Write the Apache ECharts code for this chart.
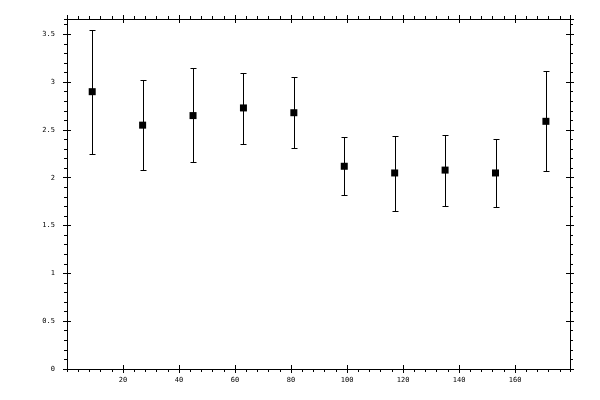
<!DOCTYPE html>
<html>
<head>
<meta charset="utf-8">
<script src="https://cdn.jsdelivr.net/npm/echarts@6/dist/echarts.min.js"></script>
<style>html,body{margin:0;padding:0;background:#fff;}#chart{width:600px;height:400px;}</style>
</head>
<body>
<div id="chart"></div>
<script>
// Data
const xValues = [9, 27, 45, 63, 81, 99, 117, 135, 153, 171];
const means   = [2.90, 2.55, 2.65, 2.73, 2.68, 2.12, 2.05, 2.08, 2.05, 2.59];
const lows    = [2.25, 2.08, 2.16, 2.35, 2.31, 1.82, 1.65, 1.70, 1.69, 2.07];
const highs   = [3.55, 3.02, 3.15, 3.10, 3.05, 2.43, 2.44, 2.45, 2.40, 3.12];

const xMin = 0, xMax = 179.6, xMajor = 20, xMinor = 4;
const yMin = 0, yMax = 3.66, yMajor = 0.5, yMinor = 0.1;

const chart = echarts.init(document.getElementById('chart'));
const rect = {left: 67, right: 30, top: 19, bottom: 31};
const black = '#000';
const labelFont = {fontFamily: 'DejaVu Sans Mono', fontSize: 7, color: black};

function xAx(grid, pos, interval, inside, len, labels) {
  return {
    type: 'value', gridIndex: grid, position: pos, min: xMin, max: xMax, interval: interval,
    axisLine: {show: grid === 0, onZero: false, lineStyle: {color: black, width: 1}},
    axisTick: {show: true, inside: inside, length: len, lineStyle: {color: black, width: 1}},
    axisLabel: labels ? Object.assign({show: true, margin: 8, showMinLabel: false, showMaxLabel: false}, labelFont) : {show: false},
    splitLine: {show: false}
  };
}
function yAx(grid, pos, interval, inside, len, labels) {
  return {
    type: 'value', gridIndex: grid, position: pos, min: yMin, max: yMax, interval: interval,
    axisLine: {show: grid === 0, onZero: false, lineStyle: {color: black, width: 1}},
    axisTick: {show: true, inside: inside, length: len, lineStyle: {color: black, width: 1}},
    axisLabel: labels ? Object.assign({show: true, margin: 12, showMinLabel: true, showMaxLabel: false,
      formatter: v => String(+v.toFixed(2))}, labelFont) : {show: false},
    splitLine: {show: false}
  };
}

const errData = xValues.map((x, i) => [x, lows[i], highs[i]]);
const ptData = xValues.map((x, i) => [x, means[i]]);

chart.setOption({
  animation: false,
  backgroundColor: '#fff',
  grid: [Object.assign({}, rect), Object.assign({}, rect), Object.assign({}, rect)],
  xAxis: [
    xAx(0, 'bottom', xMajor, false, 4, true),
    xAx(0, 'top', xMajor, false, 4, false),
    xAx(1, 'bottom', xMajor, true, 4, false),
    xAx(1, 'top', xMajor, true, 4, false),
    xAx(2, 'bottom', xMinor, false, 3, false),
    xAx(2, 'top', xMinor, false, 3, false)
  ],
  yAxis: [
    yAx(0, 'left', yMajor, false, 4, true),
    yAx(0, 'right', yMajor, false, 4, false),
    yAx(1, 'left', yMajor, true, 4, false),
    yAx(1, 'right', yMajor, true, 4, false),
    yAx(2, 'left', yMinor, false, 3, false),
    yAx(2, 'right', yMinor, false, 3, false)
  ],
  series: [
    {
      type: 'custom', xAxisIndex: 0, yAxisIndex: 0, z: 2,
      data: errData,
      renderItem: function (params, api) {
        const x = api.value(0);
        const lo = api.coord([x, api.value(1)]);
        const hi = api.coord([x, api.value(2)]);
        const cx = Math.round(lo[0]) + 0.5;
        const yHi = Math.round(hi[1]) + 0.5;
        const yLo = Math.round(lo[1]) + 0.5;
        const hw = 3;
        const style = {stroke: black, lineWidth: 1, fill: null, opacity: 1};
        return {
          type: 'group',
          children: [
            {type: 'line', shape: {x1: cx, y1: yHi, x2: cx, y2: yLo}, style: style},
            {type: 'line', shape: {x1: cx - hw, y1: yHi, x2: cx + hw, y2: yHi}, style: style},
            {type: 'line', shape: {x1: cx - hw, y1: yLo, x2: cx + hw, y2: yLo}, style: style}
          ]
        };
      }
    },
    {
      type: 'scatter', xAxisIndex: 0, yAxisIndex: 0, z: 3,
      symbol: 'rect', symbolSize: 7,
      itemStyle: {color: black, opacity: 1},
      emphasis: {disabled: true},
      data: ptData
    }
  ]
});
</script>
</body>
</html>
